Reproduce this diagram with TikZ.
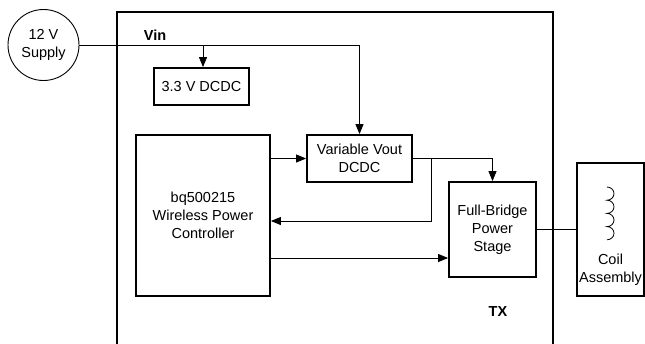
\documentclass[tikz,border=0pt]{standalone}
\usepackage{fontspec}
\setmainfont{Liberation Sans}
\usetikzlibrary{arrows.meta,calc}
\begin{document}
\begin{tikzpicture}[x=1pt,y=-1pt,
  txt/.style={font=\fontsize{14.5}{18}\selectfont, align=center},
  box/.style={txt, draw, line width=1.8pt, inner sep=0pt},
  conn/.style={line width=0.9pt},
  arr/.style={conn,-{Triangle[length=10pt,width=8pt]}},
  lbl/.style={font=\fontsize{14.5}{18}\selectfont\bfseries}]
\useasboundingbox (0,0) rectangle (645,343);
% TX enclosure
\draw[line width=1.8pt] (117,345) -- (117,12) -- (553,12) -- (553,345);
\node[lbl] (vin) at (155,35) {Vin};
\node[lbl] (tx) at (498,312) {TX};
% supply
\node[txt, circle, draw, line width=0.9pt, minimum size=71pt, inner sep=0pt] (sup) at (43.5,45) {12 V\\Supply};
% boxes
\node[box, minimum width=95pt, minimum height=37pt] (dc33) at (201.5,86.5) {3.3 V DCDC};
\node[box, minimum width=134pt, minimum height=161pt] (ctrl) at (203,215.5) {bq500215\\Wireless Power\\Controller};
\node[box, minimum width=105pt, minimum height=47pt] (vout) at (359.5,158.5) {Variable Vout\\DCDC};
\node[box, minimum width=87pt, minimum height=95pt] (fb) at (492.5,229.5) {Full-Bridge\\Power\\Stage};
\node[box, minimum width=67pt, minimum height=133pt, text depth=0pt] (coil) at (610.5,229.5) {};
\node[txt] (coiltxt) at (610.5,270) {Coil\\Assembly};
% coil symbol
\draw[line width=0.8pt] (607,187)
  arc[start angle=-90,end angle=90,x radius=7,y radius=6.6]
  arc[start angle=-90,end angle=90,x radius=7,y radius=6.6]
  arc[start angle=-90,end angle=90,x radius=7,y radius=6.6]
  arc[start angle=-90,end angle=90,x radius=7,y radius=6.6];
% connectors
\coordinate (j1) at (203,45);
\coordinate (j2) at (431,0);
\draw[arr] (sup.east) -| (vout.north);
\draw[arr] (j1) -- (j1 |- dc33.north);
\draw[arr] (ctrl.east |- vout.west) -- (vout.west);
\draw[arr] (vout.east) -| (fb.north);
\draw[arr] (j2 |- vout.east) -- (j2 |- 0,221) -- (ctrl.east |- 0,221);
\draw[arr] (ctrl.east |- 0,258) -- (fb.west |- 0,258);
\draw[conn] (fb.east) -- (coil.west);
\end{tikzpicture}
\end{document}
